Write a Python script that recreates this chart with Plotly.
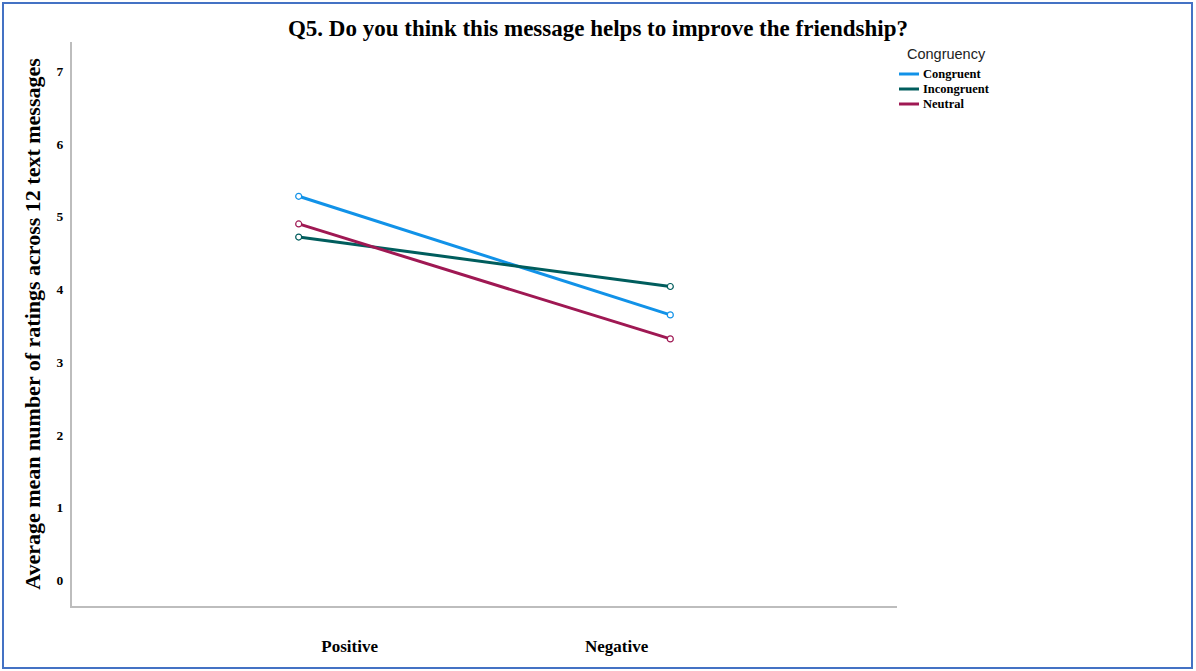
import plotly.graph_objects as go

# Data
categories = ["Positive", "Negative"]
series_names = ["Congruent", "Incongruent", "Neutral"]
congruent = [5.28, 3.65]
incongruent = [4.72, 4.04]
neutral = [4.90, 3.32]
y_ticks = [0, 1, 2, 3, 4, 5, 6, 7]
colors = ["#1192e8", "#005d5d", "#9f1853"]

series_values = [congruent, incongruent, neutral]

W, H = 1196, 671
M = dict(l=72, r=299, t=42, b=65)
PW = W - M["l"] - M["r"]
PH = H - M["t"] - M["b"]


def px_x(x):
    return (x - M["l"]) / PW


def px_y(y):
    return (H - M["b"] - y) / PH


SERIF = "Liberation Serif, Times New Roman, serif"
SANS = "Liberation Sans, Arial, sans-serif"
AXIS_GREY = "#bdbdbd"

fig = go.Figure()
for name, vals, color in zip(series_names, series_values, colors):
    fig.add_trace(go.Scatter(
        x=categories, y=vals, name=name,
        mode="lines+markers",
        line=dict(color=color, width=3),
        marker=dict(symbol="circle", size=6, color="white",
                    line=dict(color=color, width=1.2)),
        showlegend=False,
    ))

# Category labels sit on their own overlaid axis (offset from the line points)
fig.add_trace(go.Scatter(
    x=categories, y=[None] * len(categories), xaxis="x2",
    mode="markers", showlegend=False, hoverinfo="skip",
))

# Legend drawn as a compact block to the right of the plot
annotations = [dict(
    text="Congruency", xref="paper", yref="paper",
    x=px_x(905), y=px_y(54), xanchor="left", yanchor="middle",
    showarrow=False, font=dict(family=SANS, size=14.5, color="#222"),
)]
shapes = []
for i, (name, color) in enumerate(zip(series_names, colors)):
    yy = 74 + 15 * i
    shapes.append(dict(type="line", xref="paper", yref="paper",
                       x0=px_x(899), x1=px_x(919), y0=px_y(yy), y1=px_y(yy),
                       line=dict(color=color, width=3)))
    annotations.append(dict(
        text=name, xref="paper", yref="paper",
        x=px_x(921), y=px_y(yy), xanchor="left", yanchor="middle",
        showarrow=False,
        font=dict(family=SERIF, size=12.5, color="black", weight="bold"),
    ))

# Outer frame
shapes.append(dict(type="rect", xref="paper", yref="paper",
                   x0=px_x(3), x1=px_x(1192), y0=px_y(668), y1=px_y(3),
                   line=dict(color="#4472c4", width=2), layer="above"))

fig.update_layout(
    width=W, height=H,
    margin=M,
    paper_bgcolor="white", plot_bgcolor="white",
    title=dict(
        text="Q5. Do you think this message helps to improve the friendship?",
        x=0.5, xref="container", xanchor="center",
        y=1 - 28 / H, yref="container", yanchor="middle",
        font=dict(family=SERIF, size=23, color="black", weight="bold"),
    ),
    xaxis=dict(
        type="category", range=[-0.61, 1.61],
        showline=True, linecolor=AXIS_GREY, linewidth=2,
        showticklabels=False, showgrid=False, zeroline=False, ticks="",
    ),
    xaxis2=dict(
        type="category", overlaying="x", anchor="y", side="bottom",
        range=[-1.04, 2.05],
        showline=False, showgrid=False, zeroline=False, ticks="",
        ticklabelstandoff=28,
        tickfont=dict(family=SERIF, size=17, color="black", weight="bold"),
    ),
    yaxis=dict(
        range=[-0.35, 7.40],
        tickmode="array", tickvals=y_ticks,
        showline=True, linecolor=AXIS_GREY, linewidth=2,
        showgrid=False, zeroline=False, ticks="",
        ticklabelstandoff=4,
        tickfont=dict(family=SERIF, size=13.5, color="black", weight="bold"),
        title=dict(
            text="Average mean number of ratings across 12 text messages",
            font=dict(family=SERIF, size=22, color="black", weight="bold"),
            standoff=10,
        ),
    ),
    annotations=annotations,
    shapes=shapes,
)

fig.write_html("out.html")
